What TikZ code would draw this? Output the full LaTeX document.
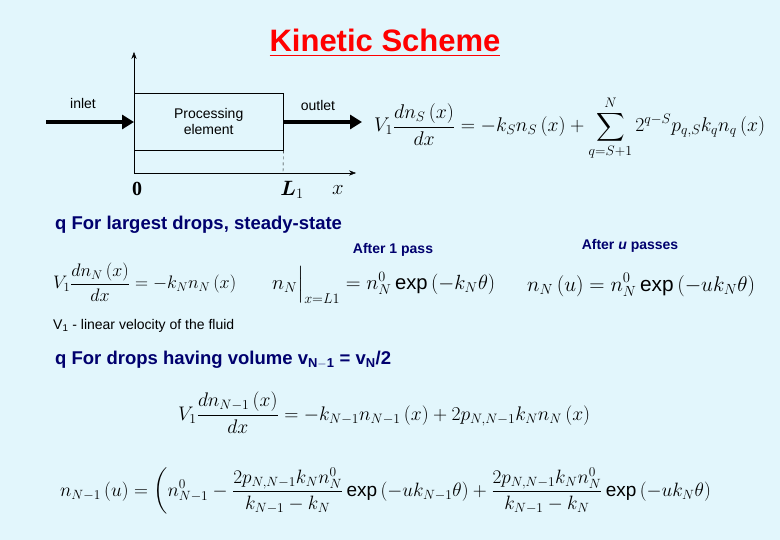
\documentclass[tikz,border=0pt]{standalone}
\usepackage{amsmath}
\usepackage{graphicx}
\usepackage{fontspec}
\setmainfont{Liberation Sans}
\newfontfamily\serifrm{Liberation Serif}
\usetikzlibrary{arrows.meta}
\definecolor{bgc}{RGB}{226,246,252}
\definecolor{navy}{RGB}{0,0,110}
\tikzset{eq/.style={anchor=west,inner sep=0pt,font=\fontsize{17}{20}\selectfont},
 txt/.style={anchor=west,inner sep=0pt,font=\fontsize{18.5}{20}\selectfont\bfseries,text=navy},
 small/.style={font=\fontsize{14}{16}\selectfont},
 thick arrow/.style={line width=4pt,-{Triangle[length=12pt,width=14pt]}}}
\begin{document}
\begin{tikzpicture}[x=1pt,y=-1pt]
\fill[bgc] (0,0) rectangle (780,540);
\useasboundingbox (0,0) rectangle (780,540);
\node[font=\fontsize{31}{34}\selectfont\bfseries,text=red] (title) at (385,43) {\underline{Kinetic Scheme}};
% diagram
\coordinate (o) at (134,173);
\coordinate (ytop) at (134,52);
\coordinate (xend) at (356,173);
\draw[-{Stealth[length=7pt]}] (o) -- (ytop);
\draw[-{Stealth[length=7pt]}] (o) -- (xend);
\node[draw,minimum width=149pt,minimum height=57pt,anchor=north west,inner sep=0pt,small,align=center] (box) at (134,93) {Processing\\element};
\draw[dashed] (box.south east) -- (283,173);
\coordinate (in0) at (46,122);
\coordinate (out1) at (362,122);
\draw[thick arrow] (in0) -- (box.west|-in0);
\draw[thick arrow] (box.east|-out1) -- (out1);
\node[small] (inlet) at (83,103) {inlet};
\node[small] (outlet) at (318,105) {outlet};
\node[font=\fontsize{20}{22}\selectfont\bfseries\serifrm] (zero) at (137,189) {0};
\node[font=\fontsize{22}{24}\selectfont] (L1) at (292,190) {$\boldsymbol{L}_1$};
\node[font=\fontsize{20}{22}\selectfont] (x) at (338,190) {$x$};
% eq 1
\node[eq] (e1) at (374,128) {\resizebox{391pt}{!}{$\displaystyle V_1\frac{dn_S\left(x\right)}{dx}=-k_Sn_S\left(x\right)+\sum_{q=S+1}^{N}2^{q-S}p_{q,S}k_qn_q\left(x\right)$}};
% heading 1
\node[txt] (h1) at (55,225) {q For largest drops, steady-state};
\node[font=\fontsize{14}{16}\selectfont\bfseries,text=navy] (a1) at (393,250) {After 1 pass};
\node[font=\fontsize{14}{16}\selectfont\bfseries,text=navy] (a2) at (630,246) {After \textit{u} passes};
\node[eq] (e2) at (53,282) {\resizebox{183pt}{!}{$\displaystyle V_1\frac{dn_N\left(x\right)}{dx}=-k_Nn_N\left(x\right)$}};
\node[eq] (e3) at (272,285) {\resizebox{223pt}{!}{$\displaystyle n_N\Big|_{x=L1}=n_N^0\exp\left(-k_N\theta\right)$}};
\node[eq] (e4) at (527,285) {\resizebox{228pt}{!}{$\displaystyle n_N\left(u\right)=n_N^0\exp\left(-uk_N\theta\right)$}};
\node[anchor=west,inner sep=0pt,font=\fontsize{14}{16}\selectfont] (v1) at (53,326) {V$_\mathrm{1}$ - linear velocity of the fluid};
\node[txt] (h2) at (55,360) {q For drops having volume v$_{\mathbf{N-1}}$ = v$_\mathbf{N}$/2};
\node[eq] (e5) at (178,413) {\resizebox{412pt}{!}{$\displaystyle V_1\frac{dn_{N-1}\left(x\right)}{dx}=-k_{N-1}n_{N-1}\left(x\right)+2p_{N,N-1}k_Nn_N\left(x\right)$}};
\node[eq] (e6) at (60,491) {\resizebox{652pt}{!}{$\displaystyle n_{N-1}\left(u\right)=\left(n_{N-1}^0-\frac{2p_{N,N-1}k_Nn_N^0}{k_{N-1}-k_N}\exp\left(-uk_{N-1}\theta\right)+\frac{2p_{N,N-1}k_Nn_N^0}{k_{N-1}-k_N}\exp\left(-uk_N\theta\right)\right.$}};
\end{tikzpicture}
\end{document}
